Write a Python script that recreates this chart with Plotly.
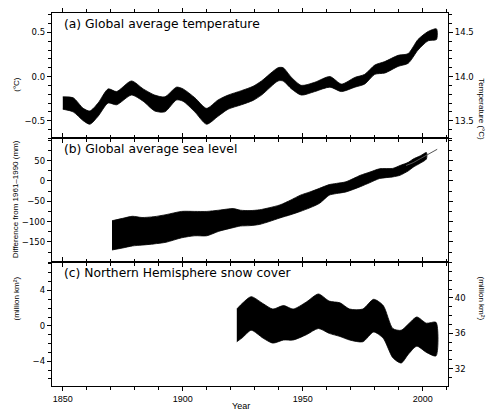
import plotly.graph_objects as go

# ---- data ----
temp_years = [1850, 1854.3, 1858.5, 1861.3, 1864.7, 1868.9, 1872.4, 1878.6, 1883.5, 1888.3, 1892.5, 1897.4, 1900.1, 1905, 1909.9, 1914.7, 1918.9, 1924.4, 1929.3, 1932.8, 1939.7, 1941.8, 1945.3, 1949.4, 1955, 1961.3, 1966.1, 1971.7, 1975.8, 1980, 1984.2, 1989.7, 1993.9, 1998, 2002.2, 2005.7]
temp_upper = [-0.23, -0.24, -0.36, -0.39, -0.30, -0.14, -0.17, -0.05, -0.14, -0.21, -0.23, -0.12, -0.14, -0.24, -0.36, -0.265, -0.21, -0.16, -0.11, -0.05, 0.10, 0.10, -0.01, -0.10, -0.065, 0.00, -0.085, -0.01, 0.025, 0.13, 0.17, 0.24, 0.26, 0.42, 0.51, 0.54]
temp_lower = [-0.37, -0.40, -0.50, -0.54, -0.45, -0.30, -0.32, -0.21, -0.28, -0.39, -0.40, -0.265, -0.28, -0.40, -0.54, -0.45, -0.37, -0.32, -0.27, -0.21, -0.05, -0.05, -0.14, -0.21, -0.17, -0.12, -0.17, -0.12, -0.085, 0.025, 0.04, 0.115, 0.15, 0.30, 0.405, 0.42]

sea_years = [1870.5, 1875, 1879, 1883, 1888, 1893, 1899.5, 1905, 1910, 1915, 1921, 1924, 1928, 1932, 1936, 1940.5, 1945, 1949, 1953, 1957, 1961, 1964, 1968, 1974, 1978, 1982, 1987.5, 1990.5, 1994, 1996, 1999, 2001.5]
sea_upper = [-98, -92, -87, -90, -88, -83, -75, -75, -75, -72, -68, -72, -73, -71, -66, -59, -47, -35, -27, -18, -9, -6, -2, 14, 22, 30, 31, 38, 46, 54, 62, 70]
sea_lower = [-170, -165, -160, -158, -155, -151, -140, -135, -135, -124, -115, -111, -110, -107, -100, -91, -83, -75, -66, -55, -35, -31, -27, -14, -4, 6, 10, 14, 25, 34, 44, 54]

sat_years = [1993, 1996, 1999, 2002, 2006]
sat_level = [38, 45, 55, 64, 78]

snow_years = [1922.5, 1925, 1928.5, 1933.5, 1937.5, 1942, 1946, 1951.5, 1956.5, 1961, 1965.5, 1969.5, 1975, 1979.5, 1983.5, 1987.5, 1991, 1994, 1997.5, 2001.5, 2005.5]
snow_upper = [1.9, 2.6, 3.3, 2.5, 1.9, 2.3, 1.9, 2.7, 3.6, 2.8, 2.6, 1.9, 1.9, 3.0, 2.3, -0.3, -0.5, 0.2, 1.0, 0.3, 0.4]
snow_lower = [-1.8, -1.3, -0.5, -1.4, -1.95, -1.6, -1.6, -1.0, -0.3, -0.85, -1.2, -1.6, -1.8, -0.7, -1.4, -3.6, -4.2, -3.2, -2.3, -3.0, -3.4]

x_ticks = [1850, 1900, 1950, 2000]
panel_titles = ["(a) Global average temperature", "(b) Global average sea level", "(c) Northern Hemisphere snow cover"]

FONT = "Liberation Sans, Arial, sans-serif"
WIDE = "DejaVu Sans, Verdana, sans-serif"
X_RANGE = [1845.5, 2010.5]
TEMP_RANGE = [-0.70, 0.72]
TEMP_ABS_OFFSET = 14.0
SEA_RANGE = [-200, 105]
SNOW_RANGE = [-6.8, 7.2]
SNOW_ABS_OFFSET = 36.84


def band(x, up, lo, xa, ya):
    return go.Scatter(x=list(x) + list(x)[::-1], y=list(up) + list(lo)[::-1],
                      fill="toself", fillcolor="black", mode="lines",
                      line=dict(color="black", width=0.8, shape="spline", smoothing=0.7),
                      xaxis=xa, yaxis=ya, showlegend=False, hoverinfo="skip")


fig = go.Figure()
fig.add_trace(band(temp_years, temp_upper, temp_lower, "x", "y"))
fig.add_trace(band(sea_years, sea_upper, sea_lower, "x2", "y2"))
fig.add_trace(go.Scatter(x=sat_years, y=sat_level, mode="lines", line=dict(color="#555", width=1),
                         xaxis="x2", yaxis="y2", showlegend=False))
fig.add_trace(band(snow_years, snow_upper, snow_lower, "x3", "y3"))
# invisible traces to activate secondary axes
fig.add_trace(go.Scatter(x=[None], y=[None], xaxis="x", yaxis="y4", showlegend=False))
fig.add_trace(go.Scatter(x=[None], y=[None], xaxis="x3", yaxis="y5", showlegend=False))

domains = [[0.664, 1.0], [0.332, 0.664], [0.0, 0.332]]

ax_common = dict(showline=True, linecolor="black", linewidth=1.3, ticks="outside",
                 tickcolor="black", ticklen=4, tickwidth=1, showgrid=False, zeroline=False,
                 tickfont=dict(family=WIDE, size=8.5, color="black"))
minor_style = dict(ticks="outside", ticklen=2.5, tickcolor="black", tickwidth=1)
xcommon = dict(ax_common, range=X_RANGE, tickvals=x_ticks, mirror="ticks",
               tickfont=dict(family=FONT, size=9, color="black"),
               minor=dict(minor_style, dtick=10, tick0=1850))

fig.update_layout(
    width=493, height=412,
    margin=dict(l=52, r=45, t=8, b=24),
    paper_bgcolor="white", plot_bgcolor="white",
    font=dict(family=FONT, color="black"),
    xaxis=dict(xcommon, anchor="y", showticklabels=False),
    xaxis2=dict(xcommon, anchor="y2", showticklabels=False, matches="x"),
    xaxis3=dict(xcommon, anchor="y3", showticklabels=True, matches="x"),
    yaxis=dict(ax_common, domain=domains[0], anchor="x", range=TEMP_RANGE, mirror=True,
               tickvals=[-0.5, 0.0, 0.5], ticktext=["\u22120.5", "0.0", "0.5"],
               minor=dict(minor_style, dtick=0.1)),
    yaxis2=dict(ax_common, domain=domains[1], anchor="x2", range=SEA_RANGE, mirror="ticks",
                tickvals=[-150, -100, -50, 0, 50], ticktext=["\u2212150", "\u2212100", "\u221250", "0", "50"],
                minor=dict(minor_style, dtick=25)),
    yaxis3=dict(ax_common, domain=domains[2], anchor="x3", range=SNOW_RANGE, mirror=True,
                tickvals=[-4, 0, 4], ticktext=["\u22124", "0", "4"],
                minor=dict(minor_style, dtick=1)),
    yaxis4=dict(ax_common, overlaying="y", side="right", anchor="x",
                range=[TEMP_RANGE[0] + TEMP_ABS_OFFSET, TEMP_RANGE[1] + TEMP_ABS_OFFSET],
                tickvals=[13.5, 14.0, 14.5], ticktext=["13.5", "14.0", "14.5"],
                minor=dict(minor_style, dtick=0.1)),
    yaxis5=dict(ax_common, overlaying="y3", side="right", anchor="x3",
                range=[SNOW_RANGE[0] + SNOW_ABS_OFFSET, SNOW_RANGE[1] + SNOW_ABS_OFFSET],
                tickvals=[32, 36, 40],
                minor=dict(minor_style, dtick=1)),
)

ann = []
for i, t in enumerate(panel_titles):
    ann.append(dict(text=t, x=0.024, y=domains[i][1], xref="paper", yref="paper",
                    xanchor="left", yanchor="top", yshift=-2, showarrow=False,
                    font=dict(family=WIDE, size=12.3, color="black")))
side_titles = [
    ("(\u00b0C)", -0.108, 0.835, -90),
    ("Difference from 1961\u20131990 (mm)", -0.108, 0.50, -90),
    ("(million km\u00b2)", -0.105, 0.17, -90),
    ("Temperature (\u00b0C)", 1.10, 0.83, 90),
    ("(million km\u00b2)", 1.10, 0.17, 90),
]
for t, x, y, ang in side_titles:
    ann.append(dict(text=t, x=x, y=y, xref="paper", yref="paper", textangle=ang,
                    showarrow=False, font=dict(family=FONT, size=8, color="black")))
ann.append(dict(text="Year", x=0.477, y=0, xref="paper", yref="paper", yanchor="top",
                yshift=-13, showarrow=False, font=dict(family=FONT, size=9, color="black")))
fig.update_layout(annotations=ann)

fig.write_html("out.html", config={"displayModeBar": False},
               post_script="document.body.style.margin='0px';")
